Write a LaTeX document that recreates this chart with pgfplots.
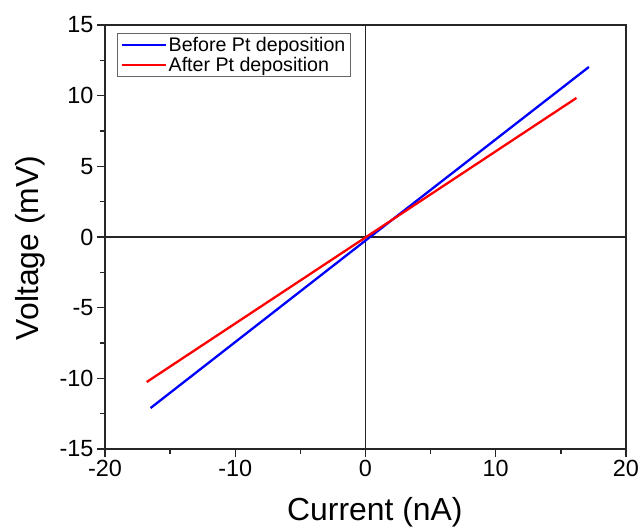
\documentclass[border=0pt]{standalone}
\usepackage{fontspec}
\setmainfont{Liberation Sans}
\usepackage{pgfplots}
\pgfplotsset{compat=1.18}
\begin{document}
\begin{tikzpicture}
\begin{axis}[
  scale only axis,
  width=521bp, height=424bp,
  at={(0,0)}, anchor=south west,
  xmin=-20, xmax=20, ymin=-15, ymax=15,
  xtick={-20,-10,0,10,20},
  ytick={-15,-10,-5,0,5,10,15},
  minor tick num=1,
  tick align=outside,
  xtick pos=left, ytick pos=left,
  major tick length=8bp, minor tick length=5bp,
  axis line style={line width=1.4bp, black!85},
  every tick/.style={line width=1.4bp, black!85},
  every minor tick/.style={line width=1.4bp, black!85},
  /pgf/number format/assume math mode=true,
  ticklabel style={font=\fontsize{23.5}{27}\selectfont},
  label style={font=\fontsize{32}{38}\selectfont},
  xlabel={Current (nA)},
  ylabel={Voltage (mV)},
  xlabel style={at={(axis description cs:0.518,-0.149)}, anchor=center},
  ylabel style={at={(axis description cs:-0.144,0.474)}, anchor=center},
  legend style={at={(0.023,0.981)}, anchor=north west, draw=black!60, line width=0.8bp,
    font=\fontsize{19.7}{24}\selectfont, inner xsep=3bp, inner ysep=2bp, row sep=0bp},
  legend cell align=left,
  legend image code/.code={\draw[#1] (0cm,0cm) -- (44bp,0cm);},
]
\draw[line width=1.2bp, black!85] (axis cs:0,-15) -- (axis cs:0,15);
\draw[line width=1.2bp, black!85] (axis cs:-20,0) -- (axis cs:20,0);
\addplot[blue, line width=2.3bp] coordinates {(-16.5,-12.1) (0,-0.25) (17.15,12.03)};
\addlegendentry{Before Pt deposition}
\addplot[red, line width=2.3bp] coordinates {(-16.8,-10.26) (0,-0.03) (16.2,9.84)};
\addlegendentry{After Pt deposition}
\end{axis}
\pgfresetboundingbox
\useasboundingbox (-105bp,-82bp) rectangle (539bp,449bp);
\end{tikzpicture}
\end{document}
